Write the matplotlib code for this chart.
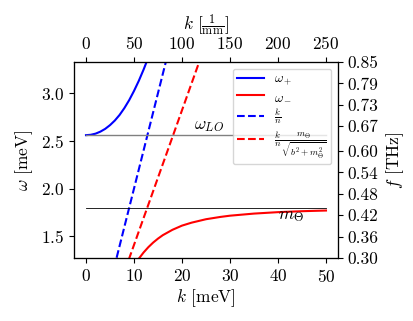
import numpy as np
import matplotlib
matplotlib.use("Agg")
import matplotlib.pyplot as plt

plt.rcParams['font.family'] = 'serif'
plt.rcParams['font.serif'] = ['cmr10']
plt.rcParams['mathtext.fontset'] = 'cm'
plt.rcParams['axes.unicode_minus'] = False
plt.rcParams['axes.formatter.use_mathtext'] = True
plt.rcParams['font.size'] = 12.5

# data (meV)
k_plus = [0, 1, 2, 3, 4, 5, 6, 7, 8, 9, 10, 11, 12, 13, 14]
omega_plus = [2.559, 2.563, 2.575, 2.596, 2.625, 2.664, 2.712, 2.771, 2.843, 2.926, 3.022, 3.128, 3.246, 3.374, 3.51]

k_minus = [10, 11, 12, 13, 14, 15, 16, 18, 20, 22, 25, 28, 30, 35, 40, 45, 50]
omega_minus = [1.191, 1.266, 1.331, 1.387, 1.435, 1.476, 1.512, 1.568, 1.612, 1.643, 1.679, 1.703, 1.716, 1.738, 1.753, 1.763, 1.770]

k_line = [0, 10, 20, 30, 40, 50]
omega_kn = [0.0, 2.0, 4.0, 6.0, 8.0, 10.0]
omega_kn_mix = [0.0, 1.41, 2.82, 4.23, 5.64, 7.05]

omega_LO = 2.559
m_theta = 1.8

top_ticks = [0, 50, 100, 150, 200, 250]
right_ticks = [0.30, 0.36, 0.42, 0.48, 0.54, 0.60, 0.67, 0.73, 0.79, 0.85]
right_labels = ['0.30', '0.36', '0.42', '0.48', '0.54', '0.60', '0.67', '0.73', '0.79', '0.85']

fig = plt.figure(figsize=(4.13, 3.21), dpi=100)
ax = fig.add_axes([74/413, 1-258/321, (338-74)/413, (258-62)/321])

ax.plot(k_plus, omega_plus, color='blue', lw=1.5, label=r'$\omega_+$')
ax.plot(k_minus, omega_minus, color='red', lw=1.5, label=r'$\omega_-$')
ax.plot(k_line, omega_kn, color='blue', lw=1.5, ls='--', label=r'$\frac{k}{n}$')
ax.plot(k_line, omega_kn_mix, color='red', lw=1.5, ls='--',
        label=r'$\frac{k}{n}\frac{m_\Theta}{\sqrt{b^2+m_\Theta^2}}$')
ax.plot([0, 50], [omega_LO, omega_LO], color='gray', lw=1.0)
ax.plot([0, 50], [m_theta, m_theta], color='black', lw=0.6)
ax.text(22.5, omega_LO + 0.01, r'$\omega_{LO}$', va='bottom', ha='left', fontsize=12.5)
ax.text(40, m_theta - 0.01, r'$m_\Theta$', va='top', ha='left', fontsize=12.5)

ax.set_xlim(-2.5, 52.5)
ax.set_ylim(1.273, 3.325)
ax.set_xticks([0, 10, 20, 30, 40, 50])
ax.set_yticks([1.5, 2.0, 2.5, 3.0])
ax.set_xlabel(r'$k$ [meV]', labelpad=2)
ax.set_ylabel(r'$\omega$ [meV]')
ax.legend(loc='upper right', fontsize=9.5, labelspacing=0.25, borderpad=0.35)

axt = ax.twiny()
axt.set_xlim(-12.5, 262.5)
axt.set_xticks(top_ticks)
axt.set_xlabel(r'$k\ [\frac{1}{\mathrm{mm}}]$')

axr = ax.twinx()
axr.set_ylim(0.30, 0.85)
axr.set_yticks(right_ticks)
axr.set_yticklabels(right_labels)
axr.set_ylabel(r'$f$ [THz]')

fig.savefig('out.png', dpi=100)
